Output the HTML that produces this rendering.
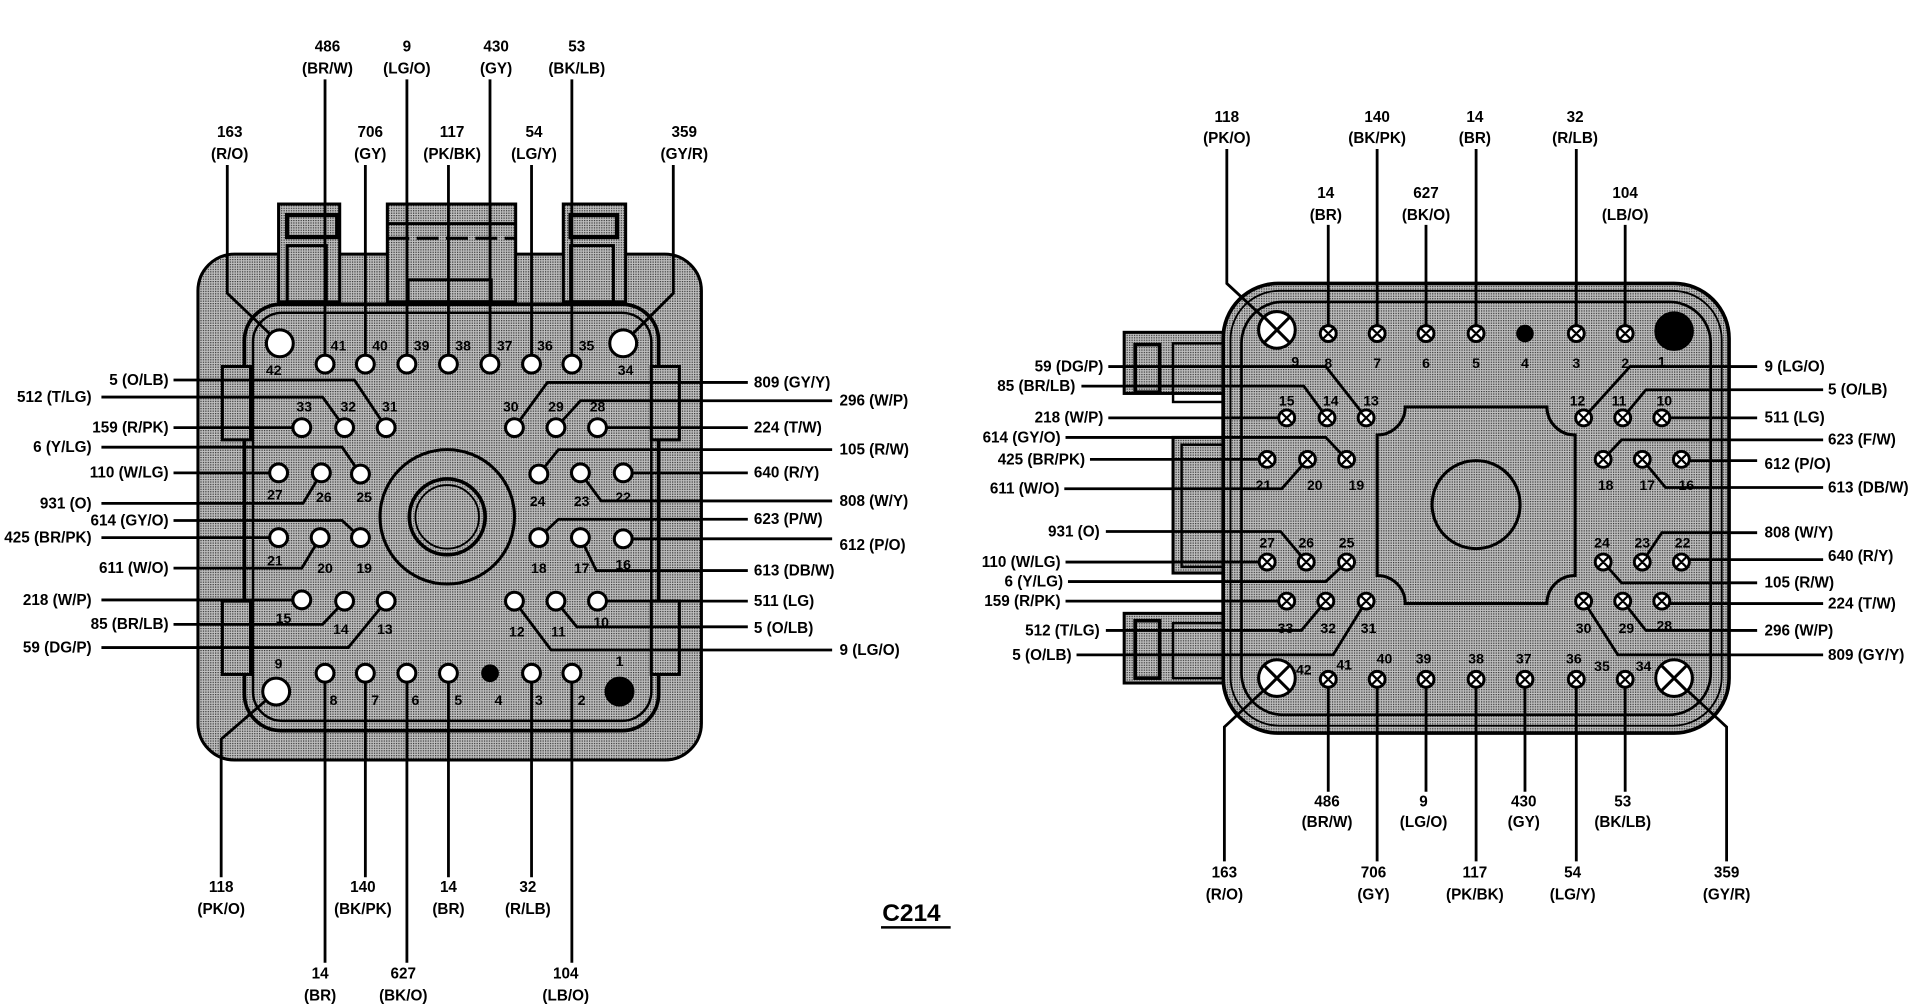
<!DOCTYPE html>
<html><head><meta charset="utf-8"><style>
html,body{margin:0;padding:0;background:#fff;}
svg{display:block;}
text{font-family:"Liberation Sans",Arial,sans-serif;font-weight:bold;font-size:12.5px;fill:#000;}
.n{font-size:11.5px;text-anchor:middle;}
.m{text-anchor:middle;}
.e{text-anchor:end;}
</style></head><body>
<svg width="1916" height="1008" viewBox="0 0 1568 825" preserveAspectRatio="none" xmlns="http://www.w3.org/2000/svg">
<defs>
<pattern id="dots" width="2" height="2" patternUnits="userSpaceOnUse">
<rect width="2" height="2" fill="#c0c0c0"/><rect width="1" height="1" fill="#333"/>
</pattern>
</defs>
<rect width="1568" height="825" fill="#fff"/>

<!-- ================= LEFT CONNECTOR ================= -->
<g stroke="#000" stroke-width="2.5" fill="url(#dots)">
<rect x="162" y="208" width="412" height="414" rx="30"/>
<rect x="228" y="167" width="50" height="80" fill="url(#dots)"/>
<rect x="317" y="167" width="105" height="80"/>
<rect x="461" y="167" width="51" height="80"/>
</g>
<g stroke="#000" stroke-width="2.5" fill="none">
<rect x="235" y="176" width="41" height="18" stroke-width="3.5"/>
<rect x="235" y="201" width="32" height="46"/>
<rect x="467" y="176" width="38" height="18" stroke-width="3.5"/>
<rect x="467" y="201" width="35" height="46"/>
<line x1="317" y1="183" x2="422" y2="183"/>
<line x1="317" y1="195" x2="422" y2="195" stroke-dasharray="18 6"/>
<rect x="334" y="229" width="68" height="18"/>
<rect x="200" y="249" width="339" height="349" rx="30" stroke-width="3"/>
<rect x="207" y="256" width="326" height="334" rx="24" stroke-width="2"/>
<rect x="182" y="300" width="23" height="60" fill="url(#dots)"/>
<rect x="182" y="492" width="23" height="60" fill="url(#dots)"/>
<rect x="533" y="300" width="23" height="60" fill="url(#dots)"/>
<rect x="533" y="492" width="23" height="60" fill="url(#dots)"/>
<circle cx="366" cy="423" r="55"/>
<circle cx="366" cy="423" r="31" stroke-width="3"/>
<circle cx="366" cy="423" r="26" stroke-width="1.5"/>
</g>

<g stroke="#000" stroke-width="2.3" fill="none">
<polyline points="266,65 266,298"/>
<polyline points="333,65 333,298"/>
<polyline points="401,65 401,298"/>
<polyline points="468,65 468,298"/>
<polyline points="299,135 299,298"/>
<polyline points="367,135 367,298"/>
<polyline points="435,135 435,298"/>
<polyline points="186,135 186,240 229,281"/>
<polyline points="551,135 551,240 510,281"/>
<polyline points="181,718 181,605 226,566"/>
<polyline points="299,551 299,718"/>
<polyline points="367,551 367,718"/>
<polyline points="435,551 435,718"/>
<polyline points="266,551 266,788"/>
<polyline points="333,551 333,788"/>
<polyline points="468,551 468,788"/>
<polyline points="142,311 290,311 316,350"/>
<polyline points="83,325 264,325 282,350"/>
<polyline points="142,350 247,350"/>
<polyline points="83,366 280,366 295,388"/>
<polyline points="142,387 228,387"/>
<polyline points="83,412 248,412 263,387"/>
<polyline points="142,426 280,426 295,440"/>
<polyline points="83,440 228,440"/>
<polyline points="142,465 247,465 262,440"/>
<polyline points="83,491 247,491"/>
<polyline points="142,511 264,511 282,492"/>
<polyline points="83,530 285,530 316,492"/>
<polyline points="612,313 448,313 421,350"/>
<polyline points="681,328 475,328 455,350"/>
<polyline points="612,350 489,350"/>
<polyline points="681,368 457,368 441,388"/>
<polyline points="612,387 510,387"/>
<polyline points="681,410 492,410 475,387"/>
<polyline points="612,425 457,425 441,440"/>
<polyline points="681,441 510,441"/>
<polyline points="612,467 488,467 475,440"/>
<polyline points="612,492 489,492"/>
<polyline points="612,513 472,513 455,492"/>
<polyline points="681,532 451,532 421,492"/>
</g>

<g stroke="#000" stroke-width="2.5" fill="#fff">
<circle cx="229" cy="281" r="11"/><circle cx="510" cy="281" r="11"/>
<circle cx="226" cy="566" r="11"/>
<circle cx="266" cy="298" r="7.3"/><circle cx="299" cy="298" r="7.3"/><circle cx="333" cy="298" r="7.3"/><circle cx="367" cy="298" r="7.3"/><circle cx="401" cy="298" r="7.3"/><circle cx="435" cy="298" r="7.3"/><circle cx="468" cy="298" r="7.3"/>
<circle cx="247" cy="350" r="7.3"/><circle cx="282" cy="350" r="7.3"/><circle cx="316" cy="350" r="7.3"/><circle cx="421" cy="350" r="7.3"/><circle cx="455" cy="350" r="7.3"/><circle cx="489" cy="350" r="7.3"/>
<circle cx="228" cy="387" r="7.3"/><circle cx="263" cy="387" r="7.3"/><circle cx="295" cy="388" r="7.3"/><circle cx="441" cy="388" r="7.3"/><circle cx="475" cy="387" r="7.3"/><circle cx="510" cy="387" r="7.3"/>
<circle cx="228" cy="440" r="7.3"/><circle cx="262" cy="440" r="7.3"/><circle cx="295" cy="440" r="7.3"/><circle cx="441" cy="440" r="7.3"/><circle cx="475" cy="440" r="7.3"/><circle cx="510" cy="441" r="7.3"/>
<circle cx="247" cy="491" r="7.3"/><circle cx="282" cy="492" r="7.3"/><circle cx="316" cy="492" r="7.3"/><circle cx="421" cy="492" r="7.3"/><circle cx="455" cy="492" r="7.3"/><circle cx="489" cy="492" r="7.3"/>
<circle cx="266" cy="551" r="7.3"/><circle cx="299" cy="551" r="7.3"/><circle cx="333" cy="551" r="7.3"/><circle cx="367" cy="551" r="7.3"/><circle cx="435" cy="551" r="7.3"/><circle cx="468" cy="551" r="7.3"/>
<circle cx="401" cy="551" r="6" fill="#000"/><circle cx="507" cy="566" r="11" fill="#000"/>
</g>
<g>
<text class="n" x="224" y="307">42</text><text class="n" x="277" y="287">41</text><text class="n" x="311" y="287">40</text><text class="n" x="345" y="287">39</text><text class="n" x="379" y="287">38</text><text class="n" x="413" y="287">37</text><text class="n" x="446" y="287">36</text><text class="n" x="480" y="287">35</text><text class="n" x="512" y="307">34</text>
<text class="n" x="249" y="337">33</text><text class="n" x="285" y="337">32</text><text class="n" x="319" y="337">31</text><text class="n" x="418" y="337">30</text><text class="n" x="455" y="337">29</text><text class="n" x="489" y="337">28</text>
<text class="n" x="225" y="409">27</text><text class="n" x="265" y="411">26</text><text class="n" x="298" y="411">25</text><text class="n" x="440" y="414">24</text><text class="n" x="476" y="414">23</text><text class="n" x="510" y="411">22</text>
<text class="n" x="225" y="463">21</text><text class="n" x="266" y="469">20</text><text class="n" x="298" y="469">19</text><text class="n" x="441" y="469">18</text><text class="n" x="476" y="469">17</text><text class="n" x="510" y="466">16</text>
<text class="n" x="232" y="510">15</text><text class="n" x="279" y="519">14</text><text class="n" x="315" y="519">13</text><text class="n" x="423" y="521">12</text><text class="n" x="457" y="521">11</text><text class="n" x="492" y="513">10</text>
<text class="n" x="228" y="547">9</text><text class="n" x="273" y="577">8</text><text class="n" x="307" y="577">7</text><text class="n" x="340" y="577">6</text><text class="n" x="375" y="577">5</text><text class="n" x="408" y="577">4</text><text class="n" x="441" y="577">3</text><text class="n" x="476" y="577">2</text><text class="n" x="507" y="545">1</text>
</g>
<g>
<text class="m" x="268" y="42">486</text><text class="m" x="268" y="60">(BR/W)</text>
<text class="m" x="333" y="42">9</text><text class="m" x="333" y="60">(LG/O)</text>
<text class="m" x="406" y="42">430</text><text class="m" x="406" y="60">(GY)</text>
<text class="m" x="472" y="42">53</text><text class="m" x="472" y="60">(BK/LB)</text>
<text class="m" x="188" y="112">163</text><text class="m" x="188" y="130">(R/O)</text>
<text class="m" x="303" y="112">706</text><text class="m" x="303" y="130">(GY)</text>
<text class="m" x="370" y="112">117</text><text class="m" x="370" y="130">(PK/BK)</text>
<text class="m" x="437" y="112">54</text><text class="m" x="437" y="130">(LG/Y)</text>
<text class="m" x="560" y="112">359</text><text class="m" x="560" y="130">(GY/R)</text>
<text class="m" x="181" y="730">118</text><text class="m" x="181" y="748">(PK/O)</text>
<text class="m" x="297" y="730">140</text><text class="m" x="297" y="748">(BK/PK)</text>
<text class="m" x="367" y="730">14</text><text class="m" x="367" y="748">(BR)</text>
<text class="m" x="432" y="730">32</text><text class="m" x="432" y="748">(R/LB)</text>
<text class="m" x="262" y="801">14</text><text class="m" x="262" y="819">(BR)</text>
<text class="m" x="330" y="801">627</text><text class="m" x="330" y="819">(BK/O)</text>
<text class="m" x="463" y="801">104</text><text class="m" x="463" y="819">(LB/O)</text>
<text class="e" x="138" y="315">5 (O/LB)</text>
<text class="e" x="75" y="329">512 (T/LG)</text>
<text class="e" x="138" y="354">159 (R/PK)</text>
<text class="e" x="75" y="370">6 (Y/LG)</text>
<text class="e" x="138" y="391">110 (W/LG)</text>
<text class="e" x="75" y="416">931 (O)</text>
<text class="e" x="138" y="430">614 (GY/O)</text>
<text class="e" x="75" y="444">425 (BR/PK)</text>
<text class="e" x="138" y="469">611 (W/O)</text>
<text class="e" x="75" y="495">218 (W/P)</text>
<text class="e" x="138" y="515">85 (BR/LB)</text>
<text class="e" x="75" y="534">59 (DG/P)</text>
<text x="617" y="317">809 (GY/Y)</text>
<text x="687" y="332">296 (W/P)</text>
<text x="617" y="354">224 (T/W)</text>
<text x="687" y="372">105 (R/W)</text>
<text x="617" y="391">640 (R/Y)</text>
<text x="687" y="414">808 (W/Y)</text>
<text x="617" y="429">623 (P/W)</text>
<text x="687" y="450">612 (P/O)</text>
<text x="617" y="471">613 (DB/W)</text>
<text x="617" y="496">511 (LG)</text>
<text x="617" y="518">5 (O/LB)</text>
<text x="687" y="536">9 (LG/O)</text>
<text x="722" y="754" style="font-size:20px">C214</text>
</g>
<line x1="721" y1="759" x2="778" y2="759" stroke="#000" stroke-width="2"/>

<!-- ================= RIGHT CONNECTOR ================= -->
<g stroke="#000" stroke-width="2.5" fill="url(#dots)">
<rect x="920" y="272" width="90" height="50"/>
<rect x="920" y="502" width="90" height="57"/>
<rect x="960" y="358" width="50" height="111"/>
<rect x="1001" y="232" width="414" height="368" rx="45" stroke-width="3"/>
</g>
<g stroke="#000" fill="none">
<rect x="929" y="282" width="20" height="39" stroke-width="3"/>
<rect x="929" y="508" width="20" height="47" stroke-width="3"/>
<rect x="960" y="281" width="41" height="48" stroke-width="2"/>
<rect x="960" y="510" width="41" height="45" stroke-width="2"/>
<rect x="967" y="364" width="34" height="100" stroke-width="2"/>
<rect x="1007" y="238" width="402" height="356" rx="40" stroke-width="1.5"/>
<rect x="1016" y="247" width="384" height="338" rx="34" stroke-width="2.2"/>
<path d="M1150 333 H1266 A23 23 0 0 0 1289 356 V471 A23 23 0 0 0 1266 494 H1150 A23 23 0 0 0 1127 471 V356 A23 23 0 0 0 1150 333 Z" stroke-width="2.5"/>
<circle cx="1208" cy="413" r="36" stroke-width="2.5"/>
</g>
<g stroke="#000" stroke-width="2.3" fill="none">
<polyline points="1004,122 1004,232 1045,270"/>
<polyline points="1087,184 1087,273"/>
<polyline points="1127,122 1127,273"/>
<polyline points="1167,184 1167,273"/>
<polyline points="1208,122 1208,273"/>
<polyline points="1290,122 1290,273"/>
<polyline points="1330,184 1330,273"/>
<polyline points="1002,705 1002,595 1045,555"/>
<polyline points="1087,556 1087,648"/>
<polyline points="1127,556 1127,705"/>
<polyline points="1167,556 1167,648"/>
<polyline points="1208,556 1208,705"/>
<polyline points="1248,556 1248,648"/>
<polyline points="1290,556 1290,705"/>
<polyline points="1330,556 1330,648"/>
<polyline points="1413,705 1413,595 1370,555"/>
<polyline points="907,300 1085,300 1118,342"/>
<polyline points="885,316 1067,316 1086,342"/>
<polyline points="907,342 1053,342"/>
<polyline points="872,358 1085,358 1102,376"/>
<polyline points="892,376 1037,376"/>
<polyline points="871,400 1049,400 1070,376"/>
<polyline points="905,435 1048,435 1069,460"/>
<polyline points="872,460 1037,460"/>
<polyline points="874,476 1085,476 1102,460"/>
<polyline points="872,492 1053,492"/>
<polyline points="905,516 1065,516 1085,492"/>
<polyline points="881,536 1091,536 1118,492"/>
<polyline points="1438,300 1334,300 1296,342"/>
<polyline points="1492,319 1347,319 1328,342"/>
<polyline points="1438,342 1360,342"/>
<polyline points="1492,360 1327,360 1312,376"/>
<polyline points="1438,377 1376,377"/>
<polyline points="1492,399 1363,399 1344,376"/>
<polyline points="1438,436 1360,436 1344,460"/>
<polyline points="1492,458 1376,458"/>
<polyline points="1438,477 1327,477 1312,460"/>
<polyline points="1492,494 1360,494"/>
<polyline points="1438,516 1347,516 1328,492"/>
<polyline points="1492,536 1324,536 1296,492"/>
</g>
<g stroke="#000" stroke-width="2.5" fill="#fff">
<circle cx="1045" cy="270" r="15"/><circle cx="1045" cy="555" r="15"/><circle cx="1370" cy="555" r="15"/>
</g>
<g stroke="#000" stroke-width="2.5">
<path d="M1034 259 L1056 281 M1056 259 L1034 281 M1034 544 L1056 566 M1056 544 L1034 566 M1359 544 L1381 566 M1381 544 L1359 566"/>
</g>
<g stroke="#000" stroke-width="2.4" fill="#fff">
<circle cx="1087" cy="273" r="6.5"/><circle cx="1127" cy="273" r="6.5"/><circle cx="1167" cy="273" r="6.5"/><circle cx="1208" cy="273" r="6.5"/><circle cx="1290" cy="273" r="6.5"/><circle cx="1330" cy="273" r="6.5"/>
<circle cx="1053" cy="342" r="6.5"/><circle cx="1086" cy="342" r="6.5"/><circle cx="1118" cy="342" r="6.5"/><circle cx="1296" cy="342" r="6.5"/><circle cx="1328" cy="342" r="6.5"/><circle cx="1360" cy="342" r="6.5"/>
<circle cx="1037" cy="376" r="6.5"/><circle cx="1070" cy="376" r="6.5"/><circle cx="1102" cy="376" r="6.5"/><circle cx="1312" cy="376" r="6.5"/><circle cx="1344" cy="376" r="6.5"/><circle cx="1376" cy="376" r="6.5"/>
<circle cx="1037" cy="460" r="6.5"/><circle cx="1069" cy="460" r="6.5"/><circle cx="1102" cy="460" r="6.5"/><circle cx="1312" cy="460" r="6.5"/><circle cx="1344" cy="460" r="6.5"/><circle cx="1376" cy="460" r="6.5"/>
<circle cx="1053" cy="492" r="6.5"/><circle cx="1085" cy="492" r="6.5"/><circle cx="1118" cy="492" r="6.5"/><circle cx="1296" cy="492" r="6.5"/><circle cx="1328" cy="492" r="6.5"/><circle cx="1360" cy="492" r="6.5"/>
<circle cx="1087" cy="556" r="6.5"/><circle cx="1127" cy="556" r="6.5"/><circle cx="1167" cy="556" r="6.5"/><circle cx="1208" cy="556" r="6.5"/><circle cx="1248" cy="556" r="6.5"/><circle cx="1290" cy="556" r="6.5"/><circle cx="1330" cy="556" r="6.5"/>
<circle cx="1248" cy="273" r="6" fill="#000"/><circle cx="1370" cy="271" r="15" fill="#000"/>
</g>
<g stroke="#000" stroke-width="1.8" fill="none">
<path d="M1083 269l8 8m0-8l-8 8M1123 269l8 8m0-8l-8 8M1163 269l8 8m0-8l-8 8M1204 269l8 8m0-8l-8 8M1286 269l8 8m0-8l-8 8M1326 269l8 8m0-8l-8 8"/>
<path d="M1049 338l8 8m0-8l-8 8M1082 338l8 8m0-8l-8 8M1114 338l8 8m0-8l-8 8M1292 338l8 8m0-8l-8 8M1324 338l8 8m0-8l-8 8M1356 338l8 8m0-8l-8 8"/>
<path d="M1033 372l8 8m0-8l-8 8M1066 372l8 8m0-8l-8 8M1098 372l8 8m0-8l-8 8M1308 372l8 8m0-8l-8 8M1340 372l8 8m0-8l-8 8M1372 372l8 8m0-8l-8 8"/>
<path d="M1033 456l8 8m0-8l-8 8M1065 456l8 8m0-8l-8 8M1098 456l8 8m0-8l-8 8M1308 456l8 8m0-8l-8 8M1340 456l8 8m0-8l-8 8M1372 456l8 8m0-8l-8 8"/>
<path d="M1049 488l8 8m0-8l-8 8M1081 488l8 8m0-8l-8 8M1114 488l8 8m0-8l-8 8M1292 488l8 8m0-8l-8 8M1324 488l8 8m0-8l-8 8M1356 488l8 8m0-8l-8 8"/>
<path d="M1083 552l8 8m0-8l-8 8M1123 552l8 8m0-8l-8 8M1163 552l8 8m0-8l-8 8M1204 552l8 8m0-8l-8 8M1244 552l8 8m0-8l-8 8M1286 552l8 8m0-8l-8 8M1326 552l8 8m0-8l-8 8"/>
</g>
<g>
<text class="n" x="1060" y="300">9</text><text class="n" x="1087" y="301">8</text><text class="n" x="1127" y="301">7</text><text class="n" x="1167" y="301">6</text><text class="n" x="1208" y="301">5</text><text class="n" x="1248" y="301">4</text><text class="n" x="1290" y="301">3</text><text class="n" x="1330" y="301">2</text><text class="n" x="1360" y="300">1</text>
<text class="n" x="1053" y="332">15</text><text class="n" x="1089" y="332">14</text><text class="n" x="1122" y="332">13</text><text class="n" x="1291" y="332">12</text><text class="n" x="1325" y="332">11</text><text class="n" x="1362" y="332">10</text>
<text class="n" x="1034" y="401">21</text><text class="n" x="1076" y="401">20</text><text class="n" x="1110" y="401">19</text><text class="n" x="1314" y="401">18</text><text class="n" x="1348" y="401">17</text><text class="n" x="1380" y="401">16</text>
<text class="n" x="1037" y="448">27</text><text class="n" x="1069" y="448">26</text><text class="n" x="1102" y="448">25</text><text class="n" x="1311" y="448">24</text><text class="n" x="1344" y="448">23</text><text class="n" x="1377" y="448">22</text>
<text class="n" x="1052" y="518">33</text><text class="n" x="1087" y="518">32</text><text class="n" x="1120" y="518">31</text><text class="n" x="1296" y="518">30</text><text class="n" x="1331" y="518">29</text><text class="n" x="1362" y="516">28</text>
<text class="n" x="1067" y="552">42</text><text class="n" x="1100" y="548">41</text><text class="n" x="1133" y="543">40</text><text class="n" x="1165" y="543">39</text><text class="n" x="1208" y="543">38</text><text class="n" x="1247" y="543">37</text><text class="n" x="1288" y="543">36</text><text class="n" x="1311" y="549">35</text><text class="n" x="1345" y="549">34</text>
</g>
<g>
<text class="m" x="1004" y="100">118</text><text class="m" x="1004" y="117">(PK/O)</text>
<text class="m" x="1127" y="100">140</text><text class="m" x="1127" y="117">(BK/PK)</text>
<text class="m" x="1207" y="100">14</text><text class="m" x="1207" y="117">(BR)</text>
<text class="m" x="1289" y="100">32</text><text class="m" x="1289" y="117">(R/LB)</text>
<text class="m" x="1085" y="162">14</text><text class="m" x="1085" y="180">(BR)</text>
<text class="m" x="1167" y="162">627</text><text class="m" x="1167" y="180">(BK/O)</text>
<text class="m" x="1330" y="162">104</text><text class="m" x="1330" y="180">(LB/O)</text>
<text class="m" x="1086" y="660">486</text><text class="m" x="1086" y="677">(BR/W)</text>
<text class="m" x="1165" y="660">9</text><text class="m" x="1165" y="677">(LG/O)</text>
<text class="m" x="1247" y="660">430</text><text class="m" x="1247" y="677">(GY)</text>
<text class="m" x="1328" y="660">53</text><text class="m" x="1328" y="677">(BK/LB)</text>
<text class="m" x="1002" y="718">163</text><text class="m" x="1002" y="736">(R/O)</text>
<text class="m" x="1124" y="718">706</text><text class="m" x="1124" y="736">(GY)</text>
<text class="m" x="1207" y="718">117</text><text class="m" x="1207" y="736">(PK/BK)</text>
<text class="m" x="1287" y="718">54</text><text class="m" x="1287" y="736">(LG/Y)</text>
<text class="m" x="1413" y="718">359</text><text class="m" x="1413" y="736">(GY/R)</text>
<text class="e" x="903" y="304">59 (DG/P)</text>
<text class="e" x="880" y="320">85 (BR/LB)</text>
<text class="e" x="903" y="346">218 (W/P)</text>
<text class="e" x="868" y="362">614 (GY/O)</text>
<text class="e" x="888" y="380">425 (BR/PK)</text>
<text class="e" x="867" y="404">611 (W/O)</text>
<text class="e" x="900" y="439">931 (O)</text>
<text class="e" x="868" y="464">110 (W/LG)</text>
<text class="e" x="870" y="480">6 (Y/LG)</text>
<text class="e" x="868" y="496">159 (R/PK)</text>
<text class="e" x="900" y="520">512 (T/LG)</text>
<text class="e" x="877" y="540">5 (O/LB)</text>
<text x="1444" y="304">9 (LG/O)</text>
<text x="1496" y="323">5 (O/LB)</text>
<text x="1444" y="346">511 (LG)</text>
<text x="1496" y="364">623 (F/W)</text>
<text x="1444" y="384">612 (P/O)</text>
<text x="1496" y="403">613 (DB/W)</text>
<text x="1444" y="440">808 (W/Y)</text>
<text x="1496" y="459">640 (R/Y)</text>
<text x="1444" y="481">105 (R/W)</text>
<text x="1496" y="498">224 (T/W)</text>
<text x="1444" y="520">296 (W/P)</text>
<text x="1496" y="540">809 (GY/Y)</text>
</g>
</svg>
</body></html>
